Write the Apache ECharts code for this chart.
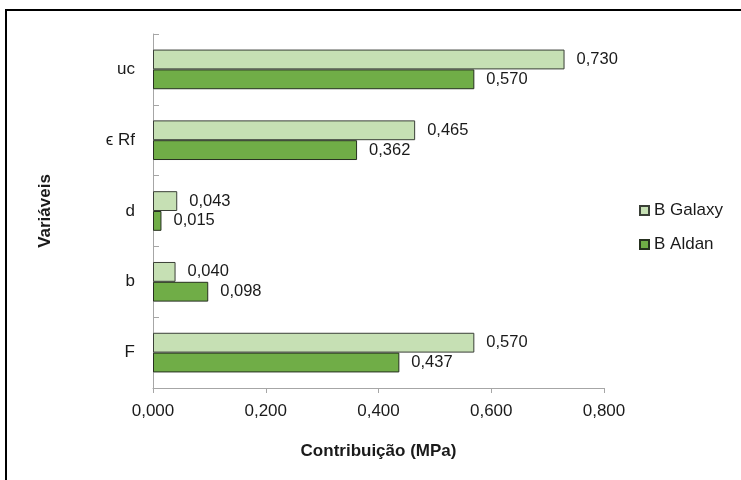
<!DOCTYPE html>
<html>
<head>
<meta charset="utf-8">
<script src="https://cdn.jsdelivr.net/npm/echarts@6/dist/echarts.min.js"></script>
<style>
  html, body { margin: 0; padding: 0; background: #fff; }
  #chart { width: 741px; height: 480px; }
</style>
</head>
<body>
<div id="chart"></div>
<script>
// Variables, listed bottom to top along the category axis
const categories = ['F', 'b', 'd', 'ϵ Rf', 'uc'];
const galaxyValues = [0.570, 0.040, 0.043, 0.465, 0.730];
const aldanValues = [0.437, 0.098, 0.015, 0.362, 0.570];
const xTicks = [0, 0.2, 0.4, 0.6, 0.8];

const fmt = v => v.toFixed(3).replace('.', ',');
const font = 'Liberation Sans, Arial, sans-serif';

const chart = echarts.init(document.getElementById('chart'));

const labelStyle = {
  show: true,
  position: 'right',
  distance: 12,
  color: '#1a1a1a',
  fontFamily: font,
  fontSize: 16.5,
  padding: [4, 0, 0, 0],
  formatter: p => fmt(p.value)
};

chart.setOption({
  animation: false,
  backgroundColor: '#fff',
  graphic: [{
    type: 'rect',
    shape: { x: 6, y: 10, width: 800, height: 520 },
    style: { fill: 'none', stroke: '#000', lineWidth: 2 },
    silent: true
  }],
  grid: { left: 153, right: 137, top: 34, bottom: 92 },
  legend: {
    orient: 'vertical',
    left: 639,
    top: 202,
    padding: 0,
    itemWidth: 9,
    itemHeight: 9,
    itemGap: 17,
    icon: 'rect',
    textStyle: { fontFamily: font, fontSize: 17, color: '#1a1a1a' },
    data: ['B Galaxy', 'B Aldan']
  },
  xAxis: {
    type: 'value',
    min: xTicks[0],
    max: xTicks[xTicks.length - 1],
    interval: 0.2,
    name: 'Contribuição (MPa)',
    nameLocation: 'middle',
    nameGap: 55,
    nameTextStyle: { fontFamily: font, fontSize: 17, fontWeight: 'bold', color: '#1a1a1a' },
    axisLine: { show: true, lineStyle: { color: '#a6a6a6', width: 1 } },
    axisTick: { show: true, length: 5, lineStyle: { color: '#a6a6a6' } },
    axisLabel: {
      margin: 15,
      fontFamily: font,
      fontSize: 17,
      color: '#1a1a1a',
      formatter: v => fmt(v)
    },
    splitLine: { show: false }
  },
  yAxis: {
    type: 'category',
    data: categories,
    name: 'Variáveis',
    nameLocation: 'middle',
    nameGap: 99,
    nameRotate: 90,
    nameTextStyle: { fontFamily: font, fontSize: 17, fontWeight: 'bold', color: '#1a1a1a' },
    axisLine: { show: true, lineStyle: { color: '#a6a6a6', width: 1 } },
    axisTick: { show: true, inside: true, length: 6, lineStyle: { color: '#a6a6a6' } },
    axisLabel: { margin: 18, fontFamily: font, fontSize: 17, color: '#1a1a1a' }
  },
  series: [
    {
      name: 'B Galaxy',
      type: 'bar',
      data: galaxyValues,
      barGap: '0%',
      barCategoryGap: '44%',
      itemStyle: { color: '#c6e0b4', borderColor: '#3a3f37', borderWidth: 1 },
      label: labelStyle
    },
    {
      name: 'B Aldan',
      type: 'bar',
      data: aldanValues,
      barGap: '0%',
      barCategoryGap: '44%',
      itemStyle: { color: '#70ad47', borderColor: '#26301f', borderWidth: 1 },
      label: labelStyle
    }
  ]
});
</script>
</body>
</html>
